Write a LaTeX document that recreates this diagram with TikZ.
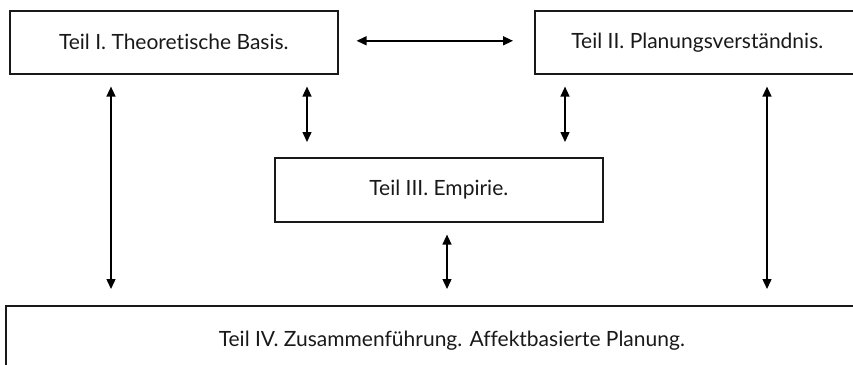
\documentclass[tikz,border=0pt]{standalone}
\usepackage{fontspec}
\setmainfont[Ligatures=NoCommon]{Lato}
\usetikzlibrary{arrows.meta}

\tikzset{
  teil/.style={draw=black!90, line width=1.6pt, text=black!90, inner sep=0pt,
    minimum height=63pt, font=\fontsize{21}{24}\selectfont},
  link/.style={{Triangle[length=10pt,width=9pt]}-{Triangle[length=10pt,width=9pt]},
    line width=1.4pt, shorten <=12pt, shorten >=16pt}
}

\begin{document}
\begin{tikzpicture}[x=1pt,y=-1pt]
\path[use as bounding box, clip] (0,0) rectangle (853,364);

\node[teil, minimum width=328pt, anchor=north west] (teil1) at (9,10)   {Teil I. Theoretische Basis.};
\node[teil, minimum width=325pt, anchor=north west] (teil2) at (534,10) {Teil II. Planungsverständnis.};
\node[teil, minimum width=328pt, minimum height=64pt, anchor=north west] (teil3) at (274,157) {Teil III. Empirie.};
\node[teil, minimum width=892pt, minimum height=70pt, anchor=north west] (teil4) at (5,305)   {Teil IV. Zusammenführung. Affektbasierte Planung.};

\draw[link, shorten <=18pt, shorten >=21pt] ([yshift=1.5pt]teil1.east) -- ([yshift=1.5pt]teil2.west);

\draw[link] ([xshift=102pt]teil1.south west) -- ([xshift=102pt]teil1.south west |- teil4.north);
\draw[link, shorten >=15pt] ([xshift=298pt]teil1.south west) -- ([xshift=298pt]teil1.south west |- teil3.north);
\draw[link, shorten >=15pt] ([xshift=31pt]teil2.south west) -- ([xshift=31pt]teil2.south west |- teil3.north);
\draw[link] ([xshift=233pt]teil2.south west) -- ([xshift=233pt]teil2.south west |- teil4.north);
\draw[link] ([xshift=173pt]teil3.south west) -- ([xshift=173pt]teil3.south west |- teil4.north);
\end{tikzpicture}
\end{document}
